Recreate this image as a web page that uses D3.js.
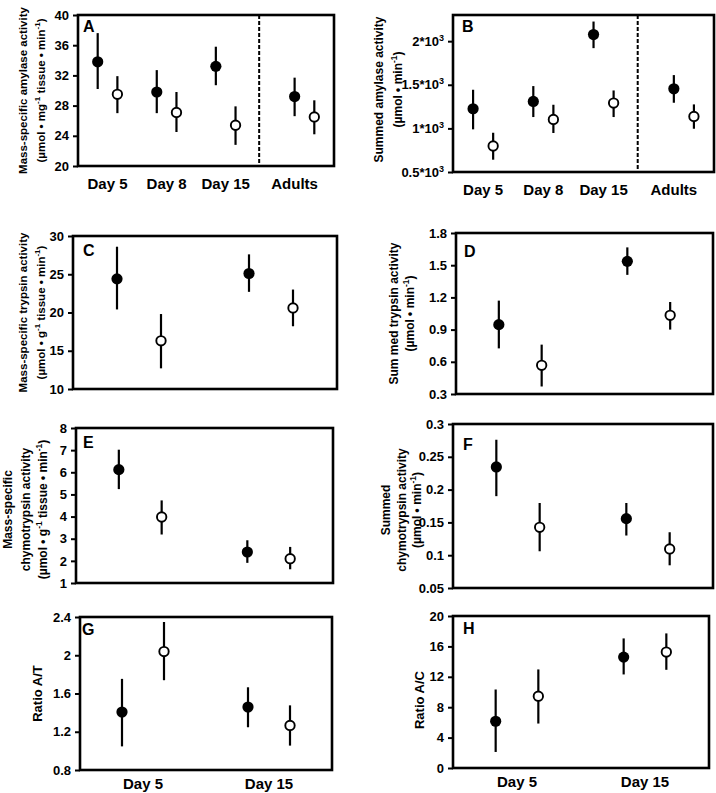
<!DOCTYPE html>
<html><head><meta charset="utf-8">
<script src="https://cdn.jsdelivr.net/npm/d3@7/dist/d3.min.js"></script>
<style>
body{margin:0;background:#fff}
svg{display:block}
text{font-family:"Liberation Sans",Arial,Helvetica,sans-serif;font-weight:bold;fill:#000}
</style>
</head><body>
<svg id="chart" width="716" height="793"></svg>
<script>
// ---------------- DATA ----------------
const groupsAB = ["Day 5", "Day 8", "Day 15", "Adults"];
const groupsCH = ["Day 5", "Day 15"];
// each entry: [mean, lower error, upper error]
const amylaseMassFilled = [[33.8, 30.2, 37.6], [29.8, 27.0, 32.7], [33.2, 30.7, 35.8], [29.2, 26.6, 31.7]];
const amylaseMassOpen   = [[29.5, 27.0, 31.9], [27.1, 24.5, 29.8], [25.4, 22.8, 27.9], [26.5, 24.2, 28.7]];
const amylaseSumFilled  = [[1225, 989, 1443], [1309, 1130, 1485], [2076, 1920, 2225], [1454, 1294, 1611]];
const amylaseSumOpen    = [[798, 641, 950], [1103, 947, 1271], [1290, 1130, 1435], [1137, 996, 1275]];
const trypsinMassFilled = [[24.4, 20.4, 28.6], [25.1, 22.7, 27.6]];
const trypsinMassOpen   = [[16.3, 12.7, 19.8], [20.6, 18.2, 23.0]];
const trypsinSumFilled  = [[0.946, 0.725, 1.17], [1.536, 1.41, 1.666]];
const trypsinSumOpen    = [[0.567, 0.37, 0.76], [1.033, 0.90, 1.157]];
const chymoMassFilled   = [[6.12, 5.24, 7.02], [2.40, 1.91, 2.93]];
const chymoMassOpen     = [[3.98, 3.19, 4.73], [2.10, 1.62, 2.63]];
const chymoSumFilled    = [[0.2345, 0.190, 0.276], [0.1557, 0.130, 0.1796]];
const chymoSumOpen      = [[0.1425, 0.106, 0.1796], [0.1095, 0.0846, 0.135]];
const ratioATFilled     = [[1.406, 1.047, 1.753], [1.458, 1.247, 1.665]];
const ratioATOpen       = [[2.038, 1.739, 2.348], [1.266, 1.055, 1.476]];
const ratioACFilled     = [[6.15, 2.11, 10.33], [14.59, 12.31, 17.05]];
const ratioACOpen       = [[9.45, 5.85, 12.97], [15.25, 12.92, 17.71]];
// tick labels
const ticksA = [20, 24, 28, 32, 36, 40];
const ticksB = [500, 1000, 1500, 2000];
const ticksC = [10, 15, 20, 25, 30];
const ticksD = [0.3, 0.6, 0.9, 1.2, 1.5, 1.8];
const ticksE = [1, 2, 3, 4, 5, 6, 7, 8];
const ticksF = [0.05, 0.1, 0.15, 0.2, 0.25, 0.3];
const ticksG = [0.8, 1.2, 1.6, 2, 2.4];
const ticksH = [0, 4, 8, 12, 16, 20];
const letters = ["A", "B", "C", "D", "E", "F", "G", "H"];

// ---------------- LAYOUT ----------------
const schemeAB = {domain: [0, 13], pos: [1, 4, 7, 11], label: [1.5, 4.5, 7.5, 11.0], dash: 9.2};
const schemeCH = {domain: [0, 6], pos: [1, 4], label: [1.5, 4.5], dash: null};

const panels = [
  {box: {l: 78, r: 334, t: 15, b: 166}, y: [20, 40], ticks: ticksA, groups: groupsAB, scheme: schemeAB,
   filled: amylaseMassFilled, open: amylaseMassOpen, xlab: true, lab: {dx: 5, dy: 17},
   title: ["Mass-specific amylase activity", "(µmol • mg^{-1} tissue • min^{-1})"], tx: [23, 41], tfs: 11.5},
  {box: {l: 453, r: 714, t: 15, b: 172}, y: [500, 2300], ticks: ticksB, groups: groupsAB, scheme: schemeAB,
   filled: amylaseSumFilled, open: amylaseSumOpen, xlab: true, sci: true, lab: {dx: 9, dy: 17},
   title: ["Summed amylase activity", "(µmol • min^{-1})"], tx: [379, 398], tfs: 12, tdy: -4},
  {box: {l: 73, r: 337, t: 236, b: 389}, y: [10, 30], ticks: ticksC, groups: groupsCH, scheme: schemeCH,
   filled: trypsinMassFilled, open: trypsinMassOpen, xlab: false, lab: {dx: 10, dy: 20},
   title: ["Mass-specific trypsin activity", "(µmol • g^{-1} tissue • min^{-1})"], tx: [23, 41], tfs: 11.5},
  {box: {l: 456, r: 713, t: 233, b: 394}, y: [0.3, 1.8], ticks: ticksD, groups: groupsCH, scheme: schemeCH,
   filled: trypsinSumFilled, open: trypsinSumOpen, xlab: false, lab: {dx: 8, dy: 24},
   title: ["Sum med trypsin activity", "(µmol • min^{-1})"], tx: [394, 410], tfs: 12},
  {box: {l: 76, r: 333, t: 428, b: 583}, y: [1, 8], ticks: ticksE, groups: groupsCH, scheme: schemeCH,
   filled: chymoMassFilled, open: chymoMassOpen, xlab: false, lab: {dx: 7, dy: 20},
   title: ["Mass-specific", "chymotrypsin activity", "(µmol • g^{-1} tissue • min^{-1})"], tx: [8, 26, 43], tfs: 12, tdy: 4},
  {box: {l: 453, r: 713, t: 424, b: 588}, y: [0.05, 0.3], ticks: ticksF, groups: groupsCH, scheme: schemeCH,
   filled: chymoSumFilled, open: chymoSumOpen, xlab: false, lab: {dx: 10, dy: 26},
   title: ["Summed", "chymotrypsin activity", "(µmol • min^{-1})"], tx: [386, 402, 417], tfs: 12, tdy: 4},
  {box: {l: 80, r: 332, t: 617, b: 770}, y: [0.8, 2.4], ticks: ticksG, groups: groupsCH, scheme: schemeCH,
   filled: ratioATFilled, open: ratioATOpen, xlab: true, lab: {dx: 2, dy: 18},
   title: ["Ratio A/T"], tx: [37], tfs: 13},
  {box: {l: 453, r: 709, t: 616, b: 768}, y: [0, 20], ticks: ticksH, groups: groupsCH, scheme: schemeCH,
   filled: ratioACFilled, open: ratioACOpen, xlab: true, lab: {dx: 10, dy: 18},
   title: ["Ratio A/C"], tx: [419], tfs: 13, tdy: 8}
];

const svg = d3.select("#chart");

function richText(sel, str, supSize) {
  // split on ^{...} for superscripts; shift back down on the next normal run
  const parts = str.split(/(\^\{[^}]*\})/).filter(s => s.length);
  let pending = 0;
  parts.forEach(p => {
    if (p.startsWith("^{")) {
      sel.append("tspan").attr("dy", -4).attr("font-size", supSize).text(p.slice(2, -1));
      pending = 4;
    } else {
      const ts = sel.append("tspan").text(p);
      if (pending) { ts.attr("dy", pending); pending = 0; }
    }
  });
}

function fmt(v) { return String(+v.toFixed(3)); }

panels.forEach((p, i) => {
  const g = svg.append("g");
  const {l, r, t, b} = p.box;
  const x = d3.scaleLinear().domain(p.scheme.domain).range([l, r]);
  const y = d3.scaleLinear().domain(p.y).range([b, t]);

  // y axis
  const ax = g.append("g").attr("transform", `translate(${l},0)`)
    .call(d3.axisLeft(y).tickValues(p.ticks).tickSize(5).tickPadding(4).tickFormat(fmt));
  ax.select(".domain").remove();
  ax.selectAll(".tick line").attr("stroke", "#000").attr("stroke-width", 2);
  ax.selectAll(".tick text").attr("font-size", 13).attr("font-family", "Liberation Sans, Arial, sans-serif")
    .attr("font-weight", "bold").attr("fill", "#000");
  if (p.sci) {
    ax.selectAll(".tick text").each(function(d) {
      const s = d3.select(this); s.text(null);
      s.append("tspan").text(fmt(d / 1000) + "*10");
      s.append("tspan").attr("dy", -5).attr("font-size", 9).text("3");
    });
  }

  // frame
  g.append("rect").attr("x", l).attr("y", t).attr("width", r - l).attr("height", b - t)
    .attr("fill", "none").attr("stroke", "#000").attr("stroke-width", 2.6);

  // dashed separator
  if (p.scheme.dash !== null) {
    g.append("line").attr("x1", x(p.scheme.dash)).attr("x2", x(p.scheme.dash))
      .attr("y1", t).attr("y2", b).attr("stroke", "#000").attr("stroke-width", 2)
      .attr("stroke-dasharray", "4,2");
  }

  // panel letter
  g.append("text").attr("x", l + p.lab.dx).attr("y", t + p.lab.dy)
    .attr("font-size", 16).text(letters[i]);

  // x labels
  if (p.xlab) {
    g.selectAll(".xl").data(p.groups).join("text")
      .attr("x", (d, k) => x(p.scheme.label[k])).attr("y", b + (i >= 6 ? 19 : 23))
      .attr("text-anchor", "middle").attr("font-size", 15).text(d => d);
  }

  // y title
  const cy = (t + b) / 2 + (p.tdy || 0);
  p.title.forEach((line, k) => {
    const tt = g.append("text")
      .attr("transform", `translate(${p.tx[k]},${cy}) rotate(-90)`)
      .attr("text-anchor", "middle").attr("dominant-baseline", "central")
      .attr("font-size", p.tfs);
    richText(tt, line, p.tfs * 0.7);
  });

  // series
  const series = [
    {data: p.filled, off: 0, fill: "#000"},
    {data: p.open, off: 1, fill: "#fff"}
  ];
  series.forEach(s => {
    const pts = g.append("g");
    pts.selectAll("line").data(s.data).join("line")
      .attr("x1", (d, k) => x(p.scheme.pos[k] + s.off))
      .attr("x2", (d, k) => x(p.scheme.pos[k] + s.off))
      .attr("y1", d => y(d[1])).attr("y2", d => y(d[2]))
      .attr("stroke", "#000").attr("stroke-width", 2.2);
    pts.selectAll("circle").data(s.data).join("circle")
      .attr("cx", (d, k) => x(p.scheme.pos[k] + s.off))
      .attr("cy", d => y(d[0]))
      .attr("r", s.off ? 4.7 : 5.6)
      .attr("fill", s.fill).attr("stroke", "#000").attr("stroke-width", s.off ? 1.9 : 0);
  });
});
</script>
</body></html>
